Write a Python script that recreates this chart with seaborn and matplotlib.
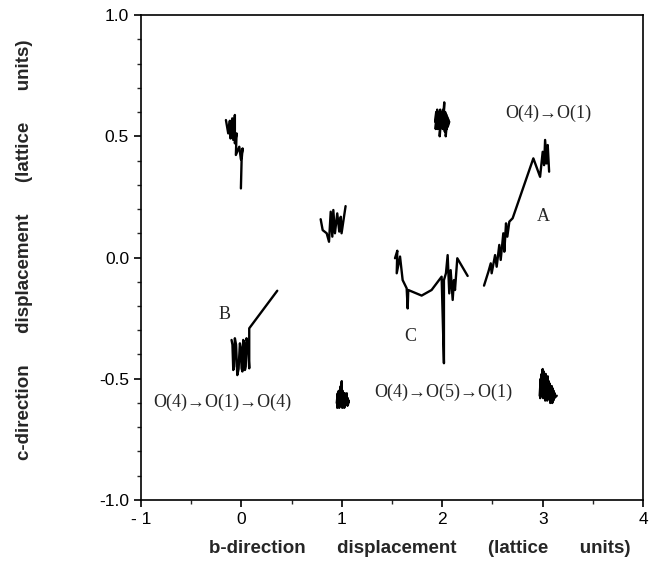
import pandas as pd
import seaborn as sns
import matplotlib.pyplot as plt
from matplotlib.ticker import MultipleLocator, FixedLocator

sns.set_style('ticks')
plt.rcParams['font.family'] = ['Liberation Sans', 'DejaVu Sans']

# trajectories (b, c in lattice units)
traj_top_x = [-0.153, -0.13, -0.114, -0.107, -0.09, -0.08, -0.064, -0.064, -0.047, -0.054, -0.02, -0.004, 0.013, 0.003, -0.004]
traj_top_y = [0.567, 0.512, 0.564, 0.491, 0.574, 0.485, 0.588, 0.471, 0.512, 0.423, 0.457, 0.405, 0.45, 0.402, 0.285]

traj_mid_x = [0.79, 0.81, 0.85, 0.873, 0.89, 0.906, 0.916, 0.932, 0.955, 0.975, 0.99, 0.998, 1.038]
traj_mid_y = [0.158, 0.113, 0.10, 0.065, 0.189, 0.086, 0.196, 0.10, 0.182, 0.107, 0.168, 0.10, 0.212]

traj_b_x = [0.358, 0.079, 0.079, 0.066, 0.052, 0.044, 0.036, 0.027, 0.019, 0.011, 0.003, -0.006, -0.014, -0.027, -0.04, -0.052, -0.064, -0.072, -0.08, -0.088, -0.097]
traj_b_y = [-0.137, -0.292, -0.457, -0.36, -0.333, -0.45, -0.464, -0.35, -0.34, -0.47, -0.457, -0.37, -0.354, -0.46, -0.485, -0.36, -0.333, -0.45, -0.464, -0.36, -0.34]

traj_c_x = [1.53, 1.553, 1.547, 1.58, 1.606, 1.646, 1.656, 1.662, 1.795, 1.894, 1.994, 2.017, 2.017,
            2.037, 2.054, 2.07, 2.084, 2.104, 2.117, 2.127, 2.15, 2.253]
traj_c_y = [-0.003, 0.028, -0.065, 0.004, -0.093, -0.127, -0.21, -0.134, -0.157, -0.134, -0.079, -0.436, -0.093,
            -0.065, 0.01, -0.148, -0.052, -0.175, -0.093, -0.134, -0.003, -0.076]

traj_a_x = [2.416, 2.46, 2.483, 2.492, 2.526, 2.542, 2.568, 2.582, 2.608, 2.618, 2.635, 2.648, 2.668, 2.701,
            2.907, 2.974, 3.0, 3.014, 3.024, 3.04, 3.05, 3.064]
traj_a_y = [-0.116, -0.058, -0.024, -0.065, 0.01, -0.038, 0.052, -0.01, 0.10, 0.024, 0.141, 0.086, 0.148, 0.162,
            0.409, 0.333, 0.436, 0.381, 0.485, 0.388, 0.464, 0.354]

# small clusters where the ion just rattles about a site
site_1_x = [0.95, 0.96, 0.955, 0.97, 0.965, 0.98, 0.975, 0.99, 0.985, 1.00, 0.995, 1.01, 1.005, 1.02, 1.015, 1.03, 1.025,
            1.04, 1.035, 1.05, 1.045, 1.06, 1.055, 1.07, 1.06, 1.04, 1.02, 1.00, 0.98, 0.96]
site_1_y = [-0.60, -0.56, -0.62, -0.55, -0.61, -0.56, -0.62, -0.53, -0.61, -0.51, -0.60, -0.55, -0.62, -0.56, -0.61,
            -0.56, -0.62, -0.57, -0.61, -0.56, -0.60, -0.58, -0.61, -0.59, -0.61, -0.59, -0.60, -0.58, -0.60, -0.59]

site_2_x = [1.93, 1.94, 1.935, 1.95, 1.945, 1.96, 1.955, 1.97, 1.965, 1.98, 1.975, 1.99, 1.985, 2.00, 1.995, 2.01,
            2.005, 2.02, 2.015, 2.03, 2.025, 2.04, 2.035, 2.05, 2.045, 2.06, 2.055, 2.07]
site_2_y = [0.56, 0.60, 0.53, 0.61, 0.55, 0.59, 0.53, 0.60, 0.54, 0.61, 0.50, 0.58, 0.55, 0.60, 0.54, 0.61, 0.53,
            0.64, 0.56, 0.60, 0.52, 0.59, 0.50, 0.58, 0.53, 0.57, 0.54, 0.56]

site_3_x = [2.97, 2.98, 2.975, 2.99, 2.985, 3.00, 2.995, 3.01, 3.005, 3.02, 3.015, 3.03, 3.025, 3.04, 3.035, 3.05,
            3.045, 3.06, 3.055, 3.07, 3.075, 3.09, 3.085, 3.10, 3.095, 3.11, 3.105, 3.12, 3.115, 3.14]
site_3_y = [-0.57, -0.50, -0.58, -0.48, -0.56, -0.46, -0.57, -0.47, -0.58, -0.49, -0.57, -0.48, -0.59, -0.50, -0.58,
            -0.49, -0.59, -0.51, -0.58, -0.52, -0.60, -0.53, -0.59, -0.54, -0.60, -0.55, -0.59, -0.56, -0.58, -0.57]

paths = {
    'top': (traj_top_x, traj_top_y),
    'mid': (traj_mid_x, traj_mid_y),
    'B': (traj_b_x, traj_b_y),
    'C': (traj_c_x, traj_c_y),
    'A': (traj_a_x, traj_a_y),
    's1': (site_1_x, site_1_y),
    's2': (site_2_x, site_2_y),
    's3': (site_3_x, site_3_y),
}

# labels on the plot
label_text = ['O(4)\u2192O(1)', 'A', 'B', 'C', 'O(4)\u2192O(1)\u2192O(4)', 'O(4)\u2192O(5)\u2192O(1)']
label_x = [3.06, 3.007, -0.163, 1.686, -0.19, 2.01]
label_y = [0.596, 0.168, -0.237, -0.327, -0.596, -0.555]

x_ticks = [-1, 0, 1, 2, 3, 4]
x_tick_labels = ['- 1', '0', '1', '2', '3', '4']
y_ticks = [-1.0, -0.5, 0.0, 0.5, 1.0]
y_tick_labels = ['-1.0', '-0.5', '0.0', '0.5', '1.0']

fig, ax = plt.subplots(figsize=(6.49, 5.8), dpi=100)
fig.subplots_adjust(left=0.217, right=0.991, top=0.974, bottom=0.138)

for name, (px, py) in paths.items():
    sns.lineplot(x=px, y=py, sort=False, estimator=None, color='black', lw=1.7, ax=ax)

for t, lx, ly in zip(label_text, label_x, label_y):
    ax.text(lx, ly, t, ha='center', va='center', fontsize=13,
            family=['Liberation Serif', 'DejaVu Serif'])

ax.set_xlim(-1, 4)
ax.set_ylim(-1, 1)
ax.xaxis.set_major_locator(FixedLocator(x_ticks))
ax.set_xticklabels(x_tick_labels)
ax.xaxis.set_minor_locator(MultipleLocator(0.5))
ax.yaxis.set_major_locator(FixedLocator(y_ticks))
ax.set_yticklabels(y_tick_labels)
ax.yaxis.set_minor_locator(MultipleLocator(0.1))
ax.tick_params(which='major', direction='out', length=5, width=1.2, labelsize=12.5, colors='black')
ax.tick_params(which='minor', direction='out', length=3, width=1)
for s in ax.spines.values():
    s.set_linewidth(1.2)
    s.set_color('black')

ax.set_xlabel('b-direction      displacement      (lattice      units)', fontsize=13.5, fontweight='bold')
ax.set_ylabel('c-direction      displacement      (lattice      units)', fontsize=13.5, fontweight='bold')
ax.xaxis.set_label_coords(0.556, -0.082)
ax.yaxis.set_label_coords(-0.215, 0.517)

plt.savefig('out.png', dpi=100)
